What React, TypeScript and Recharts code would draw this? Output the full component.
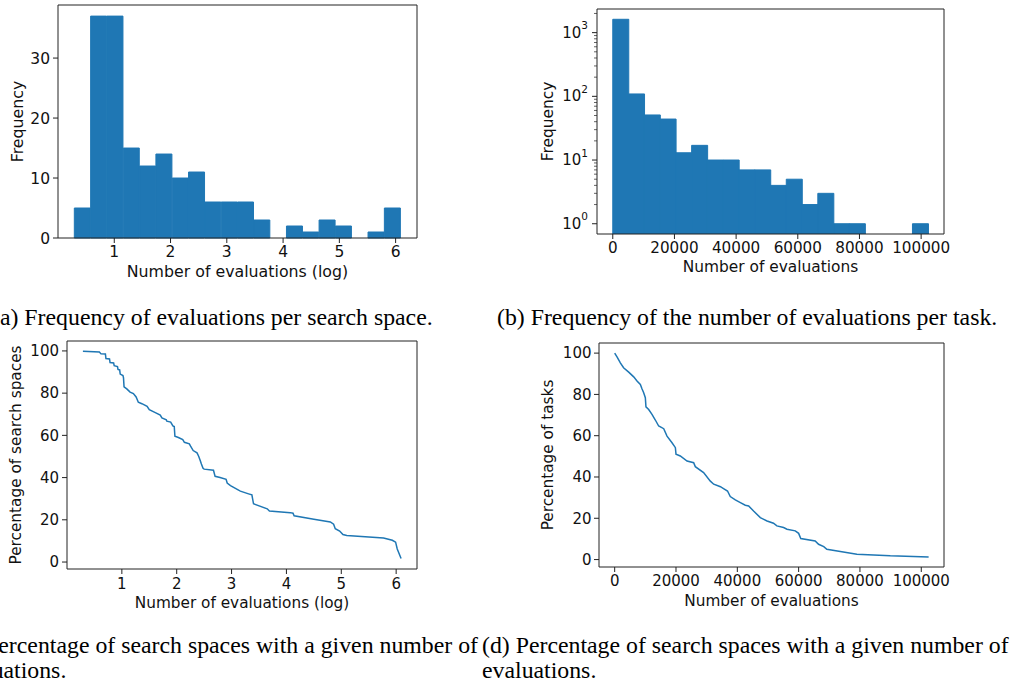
import React from 'react';
import { BarChart, Bar, LineChart, Line, XAxis, YAxis, Label, ReferenceLine } from 'recharts';

const BLUE = '#1f77b4';
const AXIS = '#222222';
const TEXT = '#111111';
const FONT = '"DejaVu Sans", sans-serif';
const SERIF = '"Liberation Serif", "Times New Roman", serif';

// (a) histogram of log10(#evaluations) per search space
const spaceBinStart = 0.29;
const spaceBinWidth = 0.29;
const spaceCounts = [5, 37, 37, 15, 12, 14, 10, 11, 6, 6, 6, 3, 0, 2, 1, 3, 2, 0, 1, 5];
const logEvalTicks = [1, 2, 3, 4, 5, 6];
const freqTicks = [0, 10, 20, 30];

// (b) histogram of #evaluations per task (log y)
const taskBinStart = 0;
const taskBinWidth = 5115;
const taskCounts = [1620, 109, 51, 44, 13, 17, 10, 10, 7, 7, 4, 5, 2, 3, 1, 1, 0, 0, 0, 1];
const evalTicks = [0, 20000, 40000, 60000, 80000, 100000];
const logFreqTicks = [
  1, 2, 3, 4, 5, 6, 7, 8, 9,
  10, 20, 30, 40, 50, 60, 70, 80, 90,
  100, 200, 300, 400, 500, 600, 700, 800, 900,
  1000, 2000,
];

// (c) percentage of search spaces vs log10(#evaluations)
const spaceLogEvals = [
  0.29, 0.59, 0.62, 0.7, 0.71, 0.775, 0.785, 0.85, 0.86, 0.92, 0.93, 0.96, 0.97, 1.02, 1.03, 1.04,
  1.09, 1.15, 1.21, 1.26, 1.3, 1.365, 1.46, 1.5, 1.61, 1.7, 1.73, 1.81, 1.82, 1.89, 1.93, 1.955,
  1.967, 2.03, 2.11, 2.14, 2.23, 2.25, 2.3, 2.37, 2.4, 2.43, 2.45, 2.48, 2.5, 2.67, 2.7, 2.79,
  2.9, 2.92, 2.98, 3.16, 3.31, 3.37, 3.4, 3.65, 3.69, 4.07, 4.12, 4.14, 4.5, 4.8, 4.86, 4.89,
  4.97, 5.03, 5.1, 5.77, 5.93, 5.99, 6.02, 6.09,
];
const spacePercent = [
  99.8, 99.5, 98.6, 98.5, 96.4, 96.2, 94.5, 94.3, 93.0, 92.6, 91.2, 91.0, 89.0, 88.3, 87.2, 83.0,
  82.0, 80.5, 79.8, 78.2, 75.7, 75.0, 73.8, 72.2, 70.8, 69.6, 68.3, 67.4, 66.7, 66.3, 64.5, 64.2,
  59.6, 59.0, 58.0, 56.7, 56.0, 55.0, 52.8, 51.7, 50.1, 48.0, 46.4, 44.4, 44.0, 43.5, 40.6, 40.0,
  39.2, 37.4, 36.2, 33.6, 32.3, 31.8, 27.6, 25.2, 24.2, 23.4, 23.1, 21.9, 20.3, 19.0, 17.9, 15.8,
  14.7, 13.0, 12.6, 11.4, 10.3, 9.4, 6.2, 1.7,
];
const percentTicks = [0, 20, 40, 60, 80, 100];

// (d) percentage of tasks vs #evaluations
const taskEvals = [
  0, 760, 1850, 2900, 4570, 6200, 7280, 8370, 8900, 9460, 10000, 10200, 11090, 12170, 13260, 14350,
  16000, 17070, 18700, 19800, 20000, 21400, 23600, 25760, 26300, 29000, 31200, 32300, 34500, 35500,
  36800, 37700, 39350, 41000, 42600, 43700, 45300, 47500, 49700, 51800, 52900, 55100, 56200, 58900,
  60000, 60700, 65400, 66500, 68200, 69200, 73600, 79000, 89900, 102400,
];
const taskPercent = [
  100, 98.2, 95.3, 92.9, 90.8, 88.5, 86.5, 84.8, 82.7, 80.8, 78.4, 74, 72.7, 70.3, 67.6, 64.7,
  63.4, 59.8, 56.6, 54.2, 51, 50.2, 47.7, 46.9, 45, 42.1, 38, 36.5, 35.3, 34.4,
  33.2, 30.5, 28.9, 27.6, 26.3, 26, 23.5, 20.3, 18.7, 17.6, 16.3, 15.5, 14.7, 13.9,
  12.7, 10.2, 9, 7.4, 6.3, 5, 3.9, 2.6, 1.8, 1.3,
];

// axis ranges (matplotlib-style 5% margins)
const spaceXDomain = [0, 6.38];
const taskXDomain = [-5115, 107415];
const spaceFreqDomain = [0, 38.85];
const taskFreqDomain = [0.69, 2350];
const spacePctDomain = [-3.3, 104.7];
const taskPctDomain = [-3.6, 104.9];

const spaceHist = spaceCounts.map((count, i) => ({
  mid: spaceBinStart + (i + 0.5) * spaceBinWidth,
  count,
}));
const taskHist = taskCounts
  .map((count, i) => ({ mid: taskBinStart + (i + 0.5) * taskBinWidth, count }))
  .filter((d) => d.count > 0);
const spaceCurve = spaceLogEvals.map((x, i) => ({ x, y: spacePercent[i] }));
const taskCurve = taskEvals.map((x, i) => ({ x, y: taskPercent[i] }));

const tickStyle = (size: number) => ({ fontSize: size, fontFamily: FONT, fill: TEXT });

const LogTick = (props: any) => {
  const { x, y, payload } = props;
  const v = payload.value;
  const exp = Math.round(Math.log10(v));
  const major = Math.abs(v - Math.pow(10, exp)) < 1e-6;
  const axisX = x + 9;
  return (
    <g>
      <line x1={axisX - (major ? 5 : 3)} x2={axisX} y1={y} y2={y} stroke={AXIS} strokeWidth={major ? 1 : 0.7} />
      {major && (
        <text x={x} y={y + 5} textAnchor="end" fontSize={15} fontFamily={FONT} fill={TEXT}>
          10
          <tspan dy={-8.5} fontSize={10.5}>
            {exp}
          </tspan>
        </text>
      )}
    </g>
  );
};

// top and right spines
const frame = (xMax: number, yMax: number) => [
  <ReferenceLine key="top" y={yMax} stroke={AXIS} strokeWidth={1} />,
  <ReferenceLine key="right" x={xMax} stroke={AXIS} strokeWidth={1} />,
];

const box = (left: number, top: number): React.CSSProperties => ({ position: 'absolute', left, top });

export default function App() {
  return (
    <div style={{ position: 'absolute', left: 0, top: 0, width: 1012, height: 685, overflow: 'hidden', background: '#fff' }}>
      {/* (a) */}
      <div style={box(0, 0)}>
        <BarChart width={430} height={285} data={spaceHist} margin={{ top: 5, right: 13, left: 0, bottom: 0 }} barCategoryGap={0} barGap={0}>
          <XAxis dataKey="mid" type="number" domain={spaceXDomain} ticks={logEvalTicks} interval={0} tickSize={5} tickMargin={3} height={47}
            tick={tickStyle(15.5)} stroke={AXIS} tickLine={{ stroke: AXIS }}>
            <Label value="Number of evaluations (log)" position="insideBottom" offset={8} fontSize={15.8} fontFamily={FONT} fill={TEXT} />
          </XAxis>
          <YAxis type="number" domain={spaceFreqDomain} ticks={freqTicks} interval={0} width={58} tickSize={5} tickMargin={3}
            tick={tickStyle(15.5)} stroke={AXIS} tickLine={{ stroke: AXIS }}>
            <Label value="Frequency" angle={-90} position="insideLeft" offset={17} fontSize={15.8} fontFamily={FONT} fill={TEXT} style={{ textAnchor: 'middle' }} />
          </YAxis>
          <Bar dataKey="count" fill={BLUE} stroke={BLUE} strokeWidth={1} isAnimationActive={false} />
          {frame(spaceXDomain[1], spaceFreqDomain[1])}
        </BarChart>
      </div>

      {/* (b) */}
      <div style={box(490, 0)}>
        <BarChart width={522} height={285} data={taskHist} margin={{ top: 9, right: 68, left: 0, bottom: 0 }} barCategoryGap={0} barGap={0}>
          <XAxis dataKey="mid" type="number" domain={taskXDomain} ticks={evalTicks} interval={0} tickSize={5} tickMargin={3.5} height={51}
            tick={tickStyle(15.2)} stroke={AXIS} tickLine={{ stroke: AXIS }}>
            <Label value="Number of evaluations" position="insideBottom" offset={13} fontSize={15.4} fontFamily={FONT} fill={TEXT} />
          </XAxis>
          <YAxis type="number" scale="log" domain={taskFreqDomain} allowDataOverflow ticks={logFreqTicks} interval={0} width={107}
            tickSize={5} tickMargin={4} tick={<LogTick />} tickLine={false} stroke={AXIS}>
            <Label value="Frequency" angle={-90} position="insideLeft" offset={58} fontSize={15.4} fontFamily={FONT} fill={TEXT} style={{ textAnchor: 'middle' }} />
          </YAxis>
          <Bar dataKey="count" fill={BLUE} stroke={BLUE} strokeWidth={1} isAnimationActive={false} />
          {frame(taskXDomain[1], taskFreqDomain[1])}
        </BarChart>
      </div>

      {/* (c) */}
      <div style={box(0, 330)}>
        <LineChart width={430} height={290} data={spaceCurve} margin={{ top: 11, right: 13, left: 0, bottom: 0 }}>
          <XAxis dataKey="x" type="number" domain={spaceXDomain} ticks={logEvalTicks} interval={0} tickSize={5} tickMargin={4} height={51}
            tick={tickStyle(15)} stroke={AXIS} tickLine={{ stroke: AXIS }}>
            <Label value="Number of evaluations (log)" position="insideBottom" offset={12} fontSize={15.3} fontFamily={FONT} fill={TEXT} />
          </XAxis>
          <YAxis type="number" domain={spacePctDomain} ticks={percentTicks} interval={0} width={67} tickSize={5} tickMargin={3}
            tick={tickStyle(15)} stroke={AXIS} tickLine={{ stroke: AXIS }}>
            <Label value="Percentage of search spaces" angle={-90} position="insideLeft" offset={16} fontSize={15.3} fontFamily={FONT} fill={TEXT} style={{ textAnchor: 'middle' }} />
          </YAxis>
          <Line dataKey="y" type="linear" stroke={BLUE} strokeWidth={1.5} dot={false} isAnimationActive={false} />
          {frame(spaceXDomain[1], spacePctDomain[1])}
        </LineChart>
      </div>

      {/* (d) */}
      <div style={box(490, 330)}>
        <LineChart width={522} height={290} data={taskCurve} margin={{ top: 13, right: 68, left: 0, bottom: 0 }}>
          <XAxis dataKey="x" type="number" domain={taskXDomain} ticks={evalTicks} interval={0} tickSize={5} tickMargin={3} height={53}
            tick={tickStyle(15)} stroke={AXIS} tickLine={{ stroke: AXIS }}>
            <Label value="Number of evaluations" position="insideBottom" offset={14} fontSize={15.3} fontFamily={FONT} fill={TEXT} />
          </XAxis>
          <YAxis type="number" domain={taskPctDomain} ticks={percentTicks} interval={0} width={109} tickSize={5} tickMargin={2.5}
            tick={tickStyle(15)} stroke={AXIS} tickLine={{ stroke: AXIS }}>
            <Label value="Percentage of tasks" angle={-90} position="insideLeft" offset={58} fontSize={15.3} fontFamily={FONT} fill={TEXT} style={{ textAnchor: 'middle' }} />
          </YAxis>
          <Line dataKey="y" type="linear" stroke={BLUE} strokeWidth={1.5} dot={false} isAnimationActive={false} />
          {frame(taskXDomain[1], taskPctDomain[1])}
        </LineChart>
      </div>

      {/* sub-figure captions */}
      <svg width={1012} height={685} style={{ position: 'absolute', left: 0, top: 0, pointerEvents: 'none' }}>
        <g fontFamily={SERIF} fontSize={23.8} fill="#000">
          <text x={-8} y={325}>(a) Frequency of evaluations per search space.</text>
          <text x={497} y={325}>(b) Frequency of the number of evaluations per task.</text>
          <text x={478} y={653} textAnchor="end">(c) Percentage of search spaces with a given number of</text>
          <text x={-48} y={678}>evaluations.</text>
          <text x={482} y={653}>(d) Percentage of search spaces with a given number of</text>
          <text x={482} y={678}>evaluations.</text>
        </g>
      </svg>
    </div>
  );
}
